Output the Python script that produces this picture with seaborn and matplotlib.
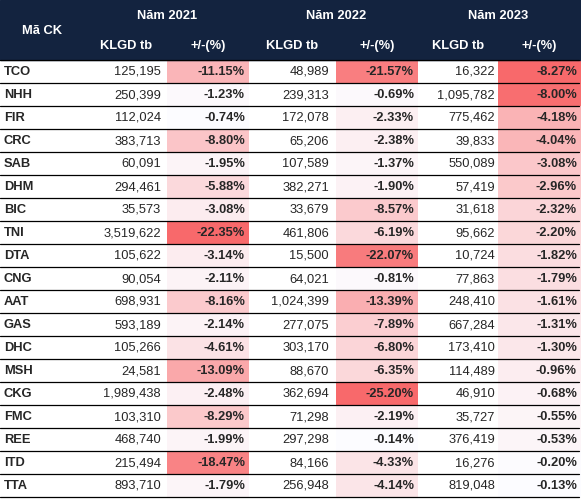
import pandas as pd
import matplotlib
matplotlib.use("Agg")
import matplotlib.pyplot as plt
from matplotlib.colors import LinearSegmentedColormap
import seaborn as sns

codes = ["TCO", "NHH", "FIR", "CRC", "SAB", "DHM", "BIC", "TNI", "DTA", "CNG",
         "AAT", "GAS", "DHC", "MSH", "CKG", "FMC", "REE", "ITD", "TTA"]
klgd_2021 = [125195, 250399, 112024, 383713, 60091, 294461, 35573, 3519622, 105622, 90054,
             698931, 593189, 105266, 24581, 1989438, 103310, 468740, 215494, 893710]
chg_2021 = [-11.15, -1.23, -0.74, -8.80, -1.95, -5.88, -3.08, -22.35, -3.14, -2.11,
            -8.16, -2.14, -4.61, -13.09, -2.48, -8.29, -1.99, -18.47, -1.79]
klgd_2022 = [48989, 239313, 172078, 65206, 107589, 382271, 33679, 461806, 15500, 64021,
             1024399, 277075, 303170, 88670, 362694, 71298, 297298, 84166, 256948]
chg_2022 = [-21.57, -0.69, -2.33, -2.38, -1.37, -1.90, -8.57, -6.19, -22.07, -0.81,
            -13.39, -7.89, -6.80, -6.35, -25.20, -2.19, -0.14, -4.33, -4.14]
klgd_2023 = [16322, 1095782, 775462, 39833, 550089, 57419, 31618, 95662, 10724, 77863,
             248410, 667284, 173410, 114489, 46910, 35727, 376419, 16276, 819048]
chg_2023 = [-8.27, -8.00, -4.18, -4.04, -3.08, -2.96, -2.32, -2.20, -1.82, -1.79,
            -1.61, -1.31, -1.30, -0.96, -0.68, -0.55, -0.53, -0.20, -0.13]
years = ["Năm 2021", "Năm 2022", "Năm 2023"]

sns.set_style("white")
plt.rcParams["font.family"] = ["Liberation Sans", "DejaVu Sans"]

df = pd.DataFrame({"code": codes,
                   "k2021": klgd_2021, "c2021": chg_2021,
                   "k2022": klgd_2022, "c2022": chg_2022,
                   "k2023": klgd_2023, "c2023": chg_2023})

# layout in pixels
W, H = 581, 500
edges = [0, 85, 167, 249, 336, 418, 498, 581]
head_h = 60
row_h = 23
n = len(codes)
body_bottom = head_h + row_h * n
navy = "#13233F"
fs = 9.3

cmap = LinearSegmentedColormap.from_list("xl", ["#F8696B", "#FCFCFF"])

fig = plt.figure(figsize=(W / 100, H / 100), dpi=100)

# colour-scaled percentage columns, each scaled on its own
for j, col in zip([2, 4, 6], ["c2021", "c2022", "c2023"]):
    x0, x1 = edges[j], edges[j + 1]
    hax = fig.add_axes([x0 / W, (H - body_bottom) / H, (x1 - x0) / W, (row_h * n) / H])
    sns.heatmap(df[[col]], ax=hax, cmap=cmap, cbar=False,
                vmin=df[col].min(), vmax=df[col].max(),
                xticklabels=False, yticklabels=False)
    hax.axis("off")

ax = fig.add_axes([0, 0, 1, 1])
ax.patch.set_alpha(0)
ax.set_xlim(0, W)
ax.set_ylim(H, 0)
ax.axis("off")

# header
ax.add_patch(plt.Rectangle((0, 0), W, head_h, color=navy, zorder=1))
hdr = dict(color="white", fontweight="bold", fontsize=fs, ha="center", va="center", zorder=3)
ax.text((edges[0] + edges[1]) / 2, 31, "Mã CK", **hdr)
for i, y in enumerate(years):
    ax.text(edges[1 + 2 * i + 1], 16, y, **hdr)
    ax.text((edges[1 + 2 * i] + edges[2 + 2 * i]) / 2, 46, "KLGD tb", **hdr)
    ax.text((edges[2 + 2 * i] + edges[3 + 2 * i]) / 2, 46, "+/-(%)", **hdr)

# body
pad_k = [6, 7, 3]
for r in range(n):
    yc = head_h + row_h * r + row_h / 2 + 0.5
    ax.text(4, yc, df["code"][r], fontweight="bold", fontsize=fs, ha="left", va="center")
    for i, yr in enumerate(["2021", "2022", "2023"]):
        kx = edges[2 + 2 * i] - pad_k[i]
        cx = edges[3 + 2 * i] - 4
        ax.text(kx, yc, f"{df['k' + yr][r]:,}", fontsize=fs, ha="right", va="center")
        ax.text(cx, yc, f"{df['c' + yr][r]:.2f}%", fontweight="bold", fontsize=fs,
                ha="right", va="center")

for r in range(n + 1):
    y = head_h + row_h * r
    ax.plot([0, W - 2], [y, y], color="black", lw=0.9, zorder=2)

fig.savefig("out.png", dpi=100)
